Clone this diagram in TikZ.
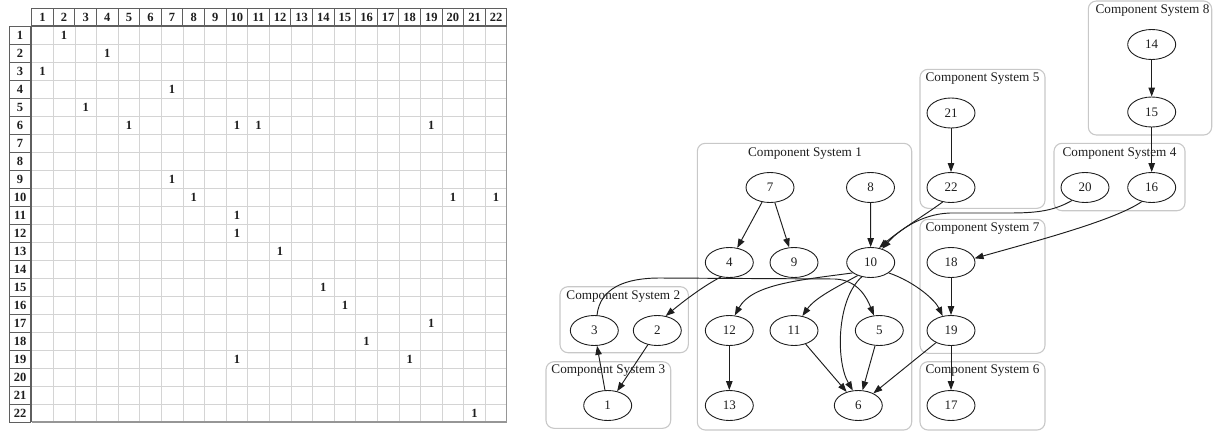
\documentclass[tikz,border=0pt]{standalone}
\usepackage{fontspec}
\setmainfont{Liberation Serif}
\usetikzlibrary{shapes.geometric, arrows.meta, positioning}
\definecolor{gridgray}{RGB}{212,212,212}
\definecolor{hdrgray}{RGB}{95,95,95}
\definecolor{edgegray}{RGB}{150,150,150}
\definecolor{clustergray}{RGB}{200,200,200}
\definecolor{mydark}{RGB}{30,30,30}
\tikzset{
  hdrcell/.style={rectangle, draw=hdrgray, line width=0.9pt,
    minimum width=21.6pt, minimum height=18pt, inner sep=0pt,
    font=\fontsize{12.5}{12.5}\selectfont\bfseries, text=mydark},
  entry/.style={inner sep=0pt, font=\fontsize{12.5}{12.5}\selectfont\bfseries, text=mydark},
  comp/.style={ellipse, draw=mydark, line width=0.9pt, minimum width=48pt,
    minimum height=30pt, inner sep=0pt, font=\fontsize{13}{13}\selectfont, text=mydark},
  cluster/.style={draw=clustergray, line width=1.1pt, rounded corners=8pt},
  clabel/.style={font=\fontsize{13.2}{13.2}\selectfont, text=mydark, inner sep=0pt},
  arrow/.style={-{Triangle[length=9pt, width=6.5pt]}, line width=0.95pt, color=mydark}
}
\begin{document}
\begin{tikzpicture}[x=1pt, y=-1pt]
  \useasboundingbox (0,0) rectangle (1213,431);

  % Adjacency matrix grid
  \foreach \i in {1,...,21} {
    \draw[gridgray, line width=0.7pt] (31.7+\i*21.6, 26) -- (31.7+\i*21.6, 422);
    \draw[gridgray, line width=0.7pt] (31.7, 26+\i*18) -- (506.9, 26+\i*18);
  }
  \draw[edgegray, line width=1.1pt] (506.9, 26) -- (506.9, 422) -- (31.7, 422);

  % Header cells
  \foreach \i in {1,...,22} {
    \node[hdrcell] (col\i) at (31.7+\i*21.6-10.8, 17) {\i};
    \node[hdrcell] (row\i) at (20.1, 26+\i*18-9) {\i};
  }
  \draw[hdrgray, line width=2pt] (30.9, 26) -- (506.9, 26);
  \draw[hdrgray, line width=2pt] (31.2, 26) -- (31.2, 422);

  % Matrix entries (row/column)
  \foreach \r/\c in {1/2, 2/4, 3/1, 4/7, 5/3, 6/5, 6/10, 6/11, 6/19, 9/7, 10/8,
                     10/20, 10/22, 11/10, 12/10, 13/12, 15/14, 16/15, 17/19,
                     18/16, 19/10, 19/18, 22/21}
    \node[entry] (m\r-\c) at (31.7+\c*21.6-10.8, 26+\r*18-9) {1};

  % Component systems
  \draw[cluster] (697.3,143.3) rectangle (911.7,430);
  \node[clabel] (cs1) at (805,154) {Component System 1};
  \draw[cluster] (560,286.7) rectangle (688.3,352.7);
  \node[clabel] (cs2) at (623.3,297) {Component System 2};
  \draw[cluster] (546,361.7) rectangle (670.7,428.3);
  \node[clabel] (cs3) at (608.3,371) {Component System 3};
  \draw[cluster] (1054,143.3) rectangle (1185,210.7);
  \node[clabel] (cs4) at (1119.5,153.5) {Component System 4};
  \draw[cluster] (920,69.3) rectangle (1045,208.3);
  \node[clabel] (cs5) at (982.5,78.5) {Component System 5};
  \draw[cluster] (920,361.7) rectangle (1045,430);
  \node[clabel] (cs6) at (982.5,371) {Component System 6};
  \draw[cluster] (920,219.3) rectangle (1045,353.3);
  \node[clabel] (cs7) at (982.5,228.5) {Component System 7};
  \draw[cluster] (1088.3,1) rectangle (1211.7,135);
  \node[clabel] (cs8) at (1152.5,10.5) {Component System 8};

  % Components
  \node[comp] (n1) at (607.7,405.5) {1};
  \node[comp] (n2) at (657.3,330.5) {2};
  \node[comp] (n3) at (594.3,330.5) {3};
  \node[comp] (n4) at (729.3,262.5) {4};
  \node[comp] (n5) at (879.3,330.5) {5};
  \node[comp] (n6) at (858.3,405.5) {6};
  \node[comp] (n7) at (770,187.5) {7};
  \node[comp] (n8) at (870.5,187.5) {8};
  \node[comp] (n9) at (794,262.5) {9};
  \node[comp] (n10) at (870.7,262.5) {10};
  \node[comp] (n11) at (794,330.5) {11};
  \node[comp] (n12) at (729.3,330.5) {12};
  \node[comp] (n13) at (729.3,405.5) {13};
  \node[comp] (n14) at (1151.7,44.5) {14};
  \node[comp] (n15) at (1151.7,112) {15};
  \node[comp] (n16) at (1151.7,187.5) {16};
  \node[comp] (n17) at (951,405.5) {17};
  \node[comp] (n18) at (951,262.5) {18};
  \node[comp] (n19) at (951,330.5) {19};
  \node[comp] (n20) at (1085,187.5) {20};
  \node[comp] (n21) at (951,113) {21};
  \node[comp] (n22) at (951,187.5) {22};

  % Dependencies
  \draw[arrow] (n7) -- (n4);
  \draw[arrow] (n7) -- (n9);
  \draw[arrow] (n8) -- (n10);
  \draw[arrow] (n21) -- (n22);
  \draw[arrow] (n14) -- (n15);
  \draw[arrow] (n15) -- (n16);
  \draw[arrow] (n18) -- (n19);
  \draw[arrow] (n19) -- (n17);
  \draw[arrow] (n19) -- (n6);
  \draw[arrow] (n12) -- (n13);
  \draw[arrow] (n11) -- (n6);
  \draw[arrow] (n5) -- (n6);
  \draw[arrow] (n2) -- (n1);
  \draw[arrow] (n1) -- (n3);

  \draw[arrow] (n3.80) .. controls (600,288) and (625,278) .. (660,278)
    -- (835,279) .. controls (858,280) and (867,298) .. (n5.110);
  \draw[arrow] (n4.240) .. controls (705,285) and (685,300) .. (n2.60);
  \draw[arrow] (n10.210) .. controls (800,280) and (752,284) .. (n12.70);
  \draw[arrow] (n10.225) .. controls (835,288) and (815,298) .. (n11.60);
  \draw[arrow] (n10.238) .. controls (836,300) and (836,362) .. (n6.110);
  \draw[arrow] (n10.-30) .. controls (915,282) and (935,300) .. (n19.120);
  \draw[arrow] (n22.240) .. controls (925,215) and (900,230) .. (n10.60);
  \draw[arrow] (n20.225) .. controls (1055,210) and (1040,213) .. (1010,213)
    -- (950,213) .. controls (920,214) and (897,232) .. (n10.50);
  \draw[arrow] (n16.235) .. controls (1115,220) and (1040,240) .. (n18.10);
\end{tikzpicture}
\end{document}
